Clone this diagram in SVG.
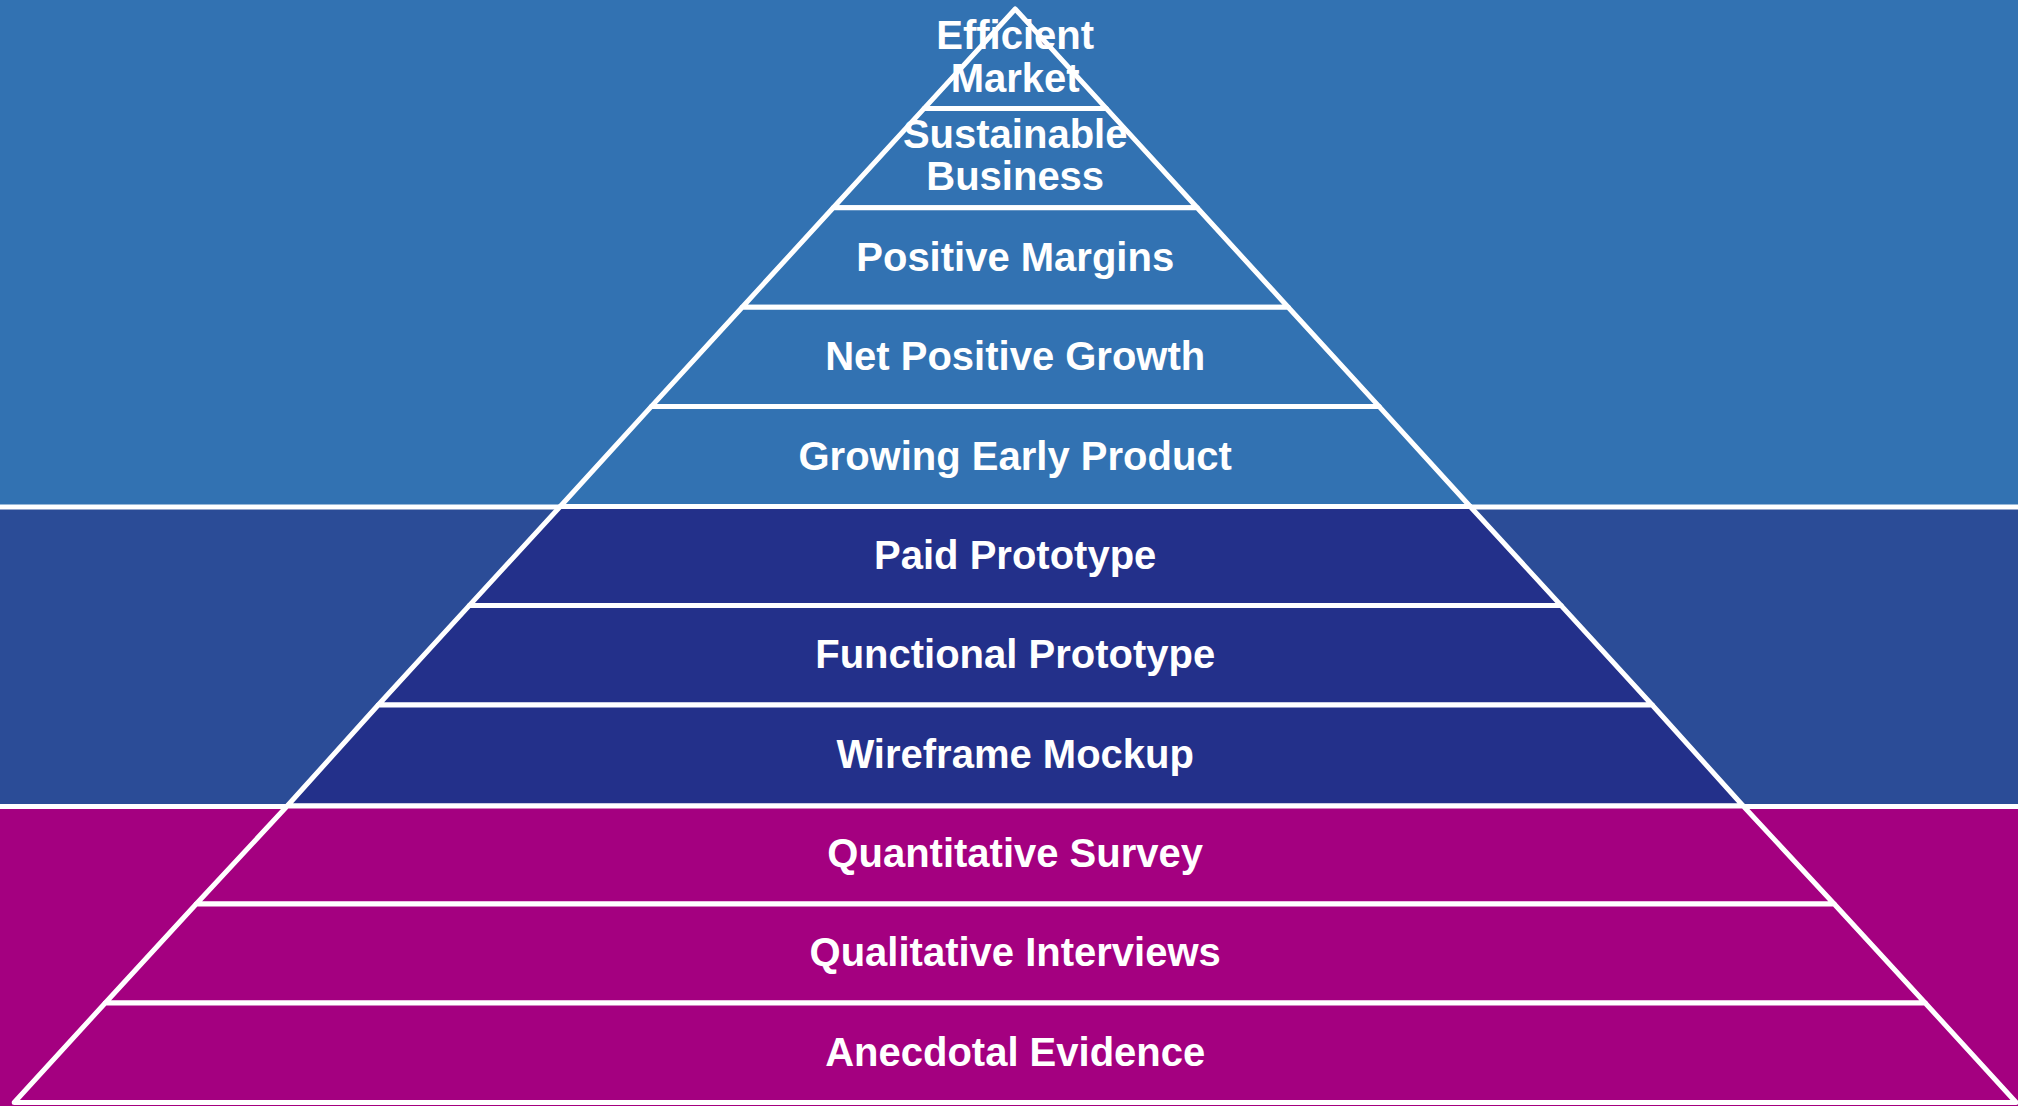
<svg xmlns="http://www.w3.org/2000/svg" width="2018" height="1106" viewBox="0 0 2018 1106">
  <style>
    .tier { stroke: #FFFFFF; stroke-width: 5; stroke-linejoin: round; }
    .top { fill: #3272B2; }
    .mid { fill: #23308A; }
    .bot { fill: #A40080; }
    .sep { stroke: #FFFFFF; stroke-width: 5; }
    .lbl { font-family: "Liberation Sans", Arial, sans-serif; font-weight: bold; font-size: 40px; fill: #FFFFFF; text-anchor: middle; }
  </style>
  <g id="background">
    <rect x="0" y="0" width="2018" height="507" fill="#3272B2"/>
    <rect x="0" y="507" width="2018" height="299" fill="#2B4C97"/>
    <rect x="0" y="806" width="2018" height="300" fill="#A40080"/>
  </g>
  <g id="connectors">
    <line class="sep" x1="0" y1="507" x2="2018" y2="507"/>
    <line class="sep" x1="0" y1="806.5" x2="2018" y2="806.5"/>
  </g>
  <g transform="translate(1.2,0)">
  <g id="tier-efficient-market">
    <polygon class="tier top" points="1014,9 1105,108.4 923,108.4"/>
    <text class="lbl" x="1014" y="49">Efficient</text>
    <text class="lbl" x="1014" y="92">Market</text>
  </g>
  <g id="tier-sustainable-business">
    <polygon class="tier top" points="923,108.4 1105,108.4 1196,207.8 832,207.8"/>
    <text class="lbl" x="1014" y="148">Sustainable</text>
    <text class="lbl" x="1014" y="190">Business</text>
  </g>
  <g id="tier-positive-margins">
    <polygon class="tier top" points="832,207.8 1196,207.8 1287,307.2 741,307.2"/>
    <text class="lbl" x="1014" y="270.5">Positive Margins</text>
  </g>
  <g id="tier-net-positive-growth">
    <polygon class="tier top" points="741,307.2 1287,307.2 1378,406.6 650,406.6"/>
    <text class="lbl" x="1014" y="370">Net Positive Growth</text>
  </g>
  <g id="tier-growing-early-product">
    <polygon class="tier top" points="650,406.6 1378,406.6 1469,506.5 559,506.5"/>
    <text class="lbl" x="1014" y="469.5">Growing Early Product</text>
  </g>
  <g id="tier-paid-prototype">
    <polygon class="tier mid" points="559,506.5 1469,506.5 1560,605.6 468,605.6"/>
    <text class="lbl" x="1014" y="569">Paid Prototype</text>
  </g>
  <g id="tier-functional-prototype">
    <polygon class="tier mid" points="468,605.6 1560,605.6 1651,705 377,705"/>
    <text class="lbl" x="1014" y="668">Functional Prototype</text>
  </g>
  <g id="tier-wireframe-mockup">
    <polygon class="tier mid" points="377,705 1651,705 1742,806 286,806"/>
    <text class="lbl" x="1014" y="767.5">Wireframe Mockup</text>
  </g>
  <g id="tier-quantitative-survey">
    <polygon class="tier bot" points="286,806 1742,806 1833,904 195,904"/>
    <text class="lbl" x="1014" y="867">Quantitative Survey</text>
  </g>
  <g id="tier-qualitative-interviews">
    <polygon class="tier bot" points="195,904 1833,904 1924,1003 104,1003"/>
    <text class="lbl" x="1014" y="966">Qualitative Interviews</text>
  </g>
  <g id="tier-anecdotal-evidence">
    <polygon class="tier bot" points="104,1003 1924,1003 2015,1102.5 13,1102.5"/>
    <text class="lbl" x="1014" y="1065.5">Anecdotal Evidence</text>
  </g>
  </g>
</svg>
